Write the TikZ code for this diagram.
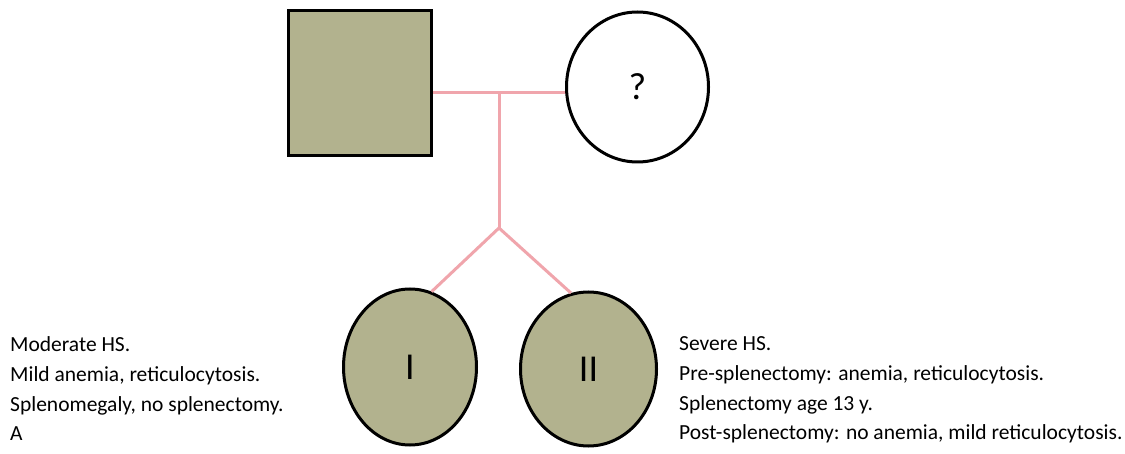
\documentclass[tikz,border=0pt]{standalone}
\usepackage{fontspec}
\setmainfont{Carlito}
\usetikzlibrary{shapes.geometric}
\definecolor{olivefill}{RGB}{178,178,142}
\definecolor{pinkline}{RGB}{240,165,172}
\tikzset{
  person/.style={draw=black, line width=3pt, fill=olivefill, inner sep=0pt, font=\fontsize{38}{40}\selectfont},
  unknown/.style={draw=black, line width=3pt, fill=white, ellipse, inner sep=0pt, font=\fontsize{38}{40}\selectfont},
  link/.style={draw=pinkline, line width=3pt},
  note/.style={anchor=north west, align=left, inner sep=0pt, font=\fontsize{21.5}{29.7}\selectfont}
}
\begin{document}
\begin{tikzpicture}[x=1pt,y=-1pt]
\useasboundingbox (0,0) rectangle (1125,454);
\fill[white] (0,0) rectangle (1125,454);
\coordinate (mj) at (499,93);
\coordinate (cj) at (499,228);
\draw[link] (499,93) -- (cj);
\draw[link] (432,93) -- (566,93);
\node[person, rectangle, minimum width=143pt, minimum height=145pt] (sq) at (359.5,83.5) {};
\node[unknown, minimum width=142pt, minimum height=150pt] (q) at (637.5,87) {?};
\node[person, ellipse, minimum width=133pt, minimum height=156pt] (c1) at (410,367) {I};
\node[person, ellipse, minimum width=136pt, minimum height=154pt] (c2) at (588.5,369) {II};
\draw[link] (cj) -- (c1.74);
\draw[link] (cj) -- (c2.103);
\node[note] (left) at (10,336.5) {Moderate HS.\\Mild anemia, reticulocytosis.\\Splenomegaly, no splenectomy.\\A};
\node[note] (right) at (679,336.5) {Severe HS.\\Pre-splenectomy: anemia, reticulocytosis.\\Splenectomy age 13 y.\\Post-splenectomy: no anemia, mild reticulocytosis.};
\end{tikzpicture}
\end{document}
